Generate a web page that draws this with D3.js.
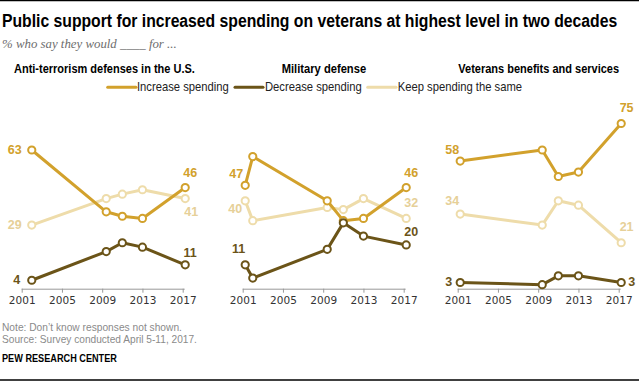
<!DOCTYPE html>
<html><head><meta charset="utf-8">
<script src="https://cdn.jsdelivr.net/npm/d3@7"></script>
<style>
body{margin:0;background:#fff;}
svg{display:block;}
</style></head>
<body>
<svg id="chart" width="639" height="381"></svg>
<script>
// ---------- DATA ----------
const panelTitles = ["Anti-terrorism defenses in the U.S.", "Military defense", "Veterans benefits and services"];
const seriesNames = ["Increase spending", "Decrease spending", "Keep spending the same"];
const tickYears = [2001, 2005, 2009, 2013, 2017];

const yearsAnti = [2002, 2009.4, 2011, 2013, 2017.25];
const antiIncrease = [63, 35, 33, 32, 46];
const antiDecrease = [4, 17, 21, 19, 11];
const antiSame = [29, 41, 43, 45, 41];

const yearsMil = [2001.25, 2002, 2009.4, 2011, 2013, 2017.25];
const milIncrease = [47, 60, 40, 31, 32, 46];
const milDecrease = [11, 5, 18, 30, 24, 20];
const milSame = [40, 31, 37, 36, 41, 32];

const yearsVet = [2001.25, 2009.4, 2011, 2013, 2017.25];
const vetIncrease = [58, 63, 51, 53, 75];
const vetDecrease = [3, 2, 6, 6, 3];
const vetSame = [34, 29, 40, 38, 21];

// ---------- STYLE ----------
const colors = {inc: "#d2a12c", dec: "#6b5418", same: "#eedcaa"};
const labelColors = {inc: "#d2a12c", dec: "#6b5418", same: "#e6d098"};
const condensed = "'Liberation Sans Narrow', 'Arial Narrow', 'Liberation Sans', Arial, sans-serif";

const panels = [
  {title: panelTitles[0], years: yearsAnti, x0: 21.7, titleX: 14, titleW: 181,
   series: {inc: antiIncrease, dec: antiDecrease, same: antiSame},
   labels: {
     inc: [[-10, 4, "end"], [5, -11, "middle"]],
     same: [[-10, 4, "end"], [6, 17, "middle"]],
     dec: [[-11.5, 4, "end"], [5, -8, "middle"]]
   }},
  {title: panelTitles[1], years: yearsMil, x0: 242.7, titleX: 281.7, titleW: 84.5,
   series: {inc: milIncrease, dec: milDecrease, same: milSame},
   labels: {
     inc: [[-2, -7, "end"], [5, -11, "middle"]],
     same: [[-3, 12, "end"], [5, -11.5, "middle"]],
     dec: [[0, -11.5, "end"], [5, -9, "middle"]]
   }},
  {title: panelTitles[2], years: yearsVet, x0: 457.7, titleX: 458.3, titleW: 161,
   series: {inc: vetIncrease, dec: vetDecrease, same: vetSame},
   labels: {
     inc: [[-1, -7, "end"], [5.4, -12, "middle"]],
     same: [[-1, -8.6, "end"], [5.4, -12, "middle"]],
     dec: [[-8, 3.5, "end"], [7, 3.5, "start"]]
   }}
];

const svg = d3.select("#chart");
const W = 639, H = 381;

// text fitted to a target width by horizontal scaling (left anchored)
function fitText(parent, str, x, y, targetW, attrs) {
  const t = parent.append("text").attr("x", 0).attr("y", 0).text(str);
  Object.entries(attrs).forEach(([k, v]) => t.attr(k, v));
  const nat = t.node().getComputedTextLength();
  const sx = nat > 0 ? targetW / nat : 1;
  t.attr("transform", `translate(${x},${y}) scale(${sx},1)`);
  return t;
}

// borders
svg.append("line").attr("x1", 0).attr("x2", W).attr("y1", 0.5).attr("y2", 0.5).attr("stroke", "#000").attr("stroke-width", 1.5);
svg.append("line").attr("x1", 0).attr("x2", W).attr("y1", 380).attr("y2", 380).attr("stroke", "#000").attr("stroke-width", 1.5);

// title
fitText(svg, "Public support for increased spending on veterans at highest level in two decades", 2, 27.3, 616,
  {"font-family": condensed, "font-weight": "bold", "font-size": 17.5, "fill": "#000"});

fitText(svg, "% who say they would ____ for ...", 2, 48, 175,
  {"font-family": "'Liberation Serif', 'DejaVu Serif', serif", "font-style": "italic", "font-size": 13, "fill": "#6e6e6e"});

// legend
const legendItems = [
  {key: "inc", x1: 107.7, x2: 136, tx: 137, tw: 92, name: seriesNames[0]},
  {key: "dec", x1: 235, x2: 263, tx: 265, tw: 97, name: seriesNames[1]},
  {key: "same", x1: 367.7, x2: 396, tx: 397.7, tw: 124.6, name: seriesNames[2]}
];
legendItems.forEach(li => {
  svg.append("line").attr("x1", li.x1).attr("x2", li.x2).attr("y1", 87.3).attr("y2", 87.3)
    .attr("stroke", colors[li.key]).attr("stroke-width", 3).attr("stroke-linecap", "round");
  fitText(svg, li.name, li.tx, 91.3, li.tw,
    {"font-family": condensed, "font-size": 12.5, "fill": "#222"});
});

// scales
const y = d3.scaleLinear().domain([0, 75]).range([289.1, 289.1 - 75 * 2.208]);
const axisY = 288.7;

panels.forEach(p => {
  const x = d3.scaleLinear().domain([2001, 2017]).range([p.x0, p.x0 + 161]);
  const g = svg.append("g");

  // panel title
  fitText(g, p.title, p.titleX, 72.7, p.titleW,
    {"font-family": condensed, "font-weight": "bold", "font-size": 12.5, "fill": "#000"});

  // axis
  const axis = d3.axisBottom(x).tickValues(tickYears).tickFormat(d3.format("d"))
    .tickSize(4).tickSizeOuter(0).tickPadding(4);
  const ag = g.append("g").attr("transform", `translate(0,${axisY})`).call(axis);
  ag.select(".domain").attr("d", `M${x(2001)},0.5H${x(2017.2)}`).attr("stroke", "#999").attr("stroke-width", 1);
  ag.selectAll(".tick line").attr("stroke", "#999");
  ag.selectAll(".tick text").attr("font-family", "'DejaVu Sans', Verdana, sans-serif")
    .attr("font-size", 10.5).attr("fill", "#333").attr("dy", "0.71em");

  const line = d3.line().x(d => x(d[0])).y(d => y(d[1]));
  ["same", "inc", "dec"].forEach(k => {
    const vals = p.series[k];
    const pts = p.years.map((yr, i) => [yr, vals[i]]);
    g.append("path").datum(pts).attr("d", line).attr("fill", "none")
      .attr("stroke", colors[k]).attr("stroke-width", 3).attr("stroke-linejoin", "round");
    g.selectAll(null).data(pts).enter().append("circle")
      .attr("cx", d => x(d[0])).attr("cy", d => y(d[1])).attr("r", 3.6)
      .attr("fill", "#fff").attr("stroke", colors[k]).attr("stroke-width", 2);
  });

  ["same", "inc", "dec"].forEach(k => {
    const vals = p.series[k];
    const n = vals.length;
    [[0, p.labels[k][0]], [n - 1, p.labels[k][1]]].forEach(([i, lp]) => {
      g.append("text")
        .attr("x", x(p.years[i]) + lp[0]).attr("y", y(vals[i]) + lp[1])
        .attr("text-anchor", lp[2])
        .attr("font-family", "'Liberation Sans', Arial, sans-serif")
        .attr("font-weight", "bold").attr("font-size", 12.5)
        .attr("fill", labelColors[k])
        .text(vals[i]);
    });
  });
});

// notes
fitText(svg, "Note: Don\u2019t know responses not shown.", 2, 331, 180,
  {"font-family": condensed, "font-size": 11, "fill": "#8a8a8a"});
fitText(svg, "Source: Survey conducted April 5-11, 2017.", 2, 343.3, 195,
  {"font-family": condensed, "font-size": 11, "fill": "#8a8a8a"});
fitText(svg, "PEW RESEARCH CENTER", 2, 362.3, 115,
  {"font-family": condensed, "font-weight": "bold", "font-size": 10.5, "fill": "#000"});
</script>
</body></html>
